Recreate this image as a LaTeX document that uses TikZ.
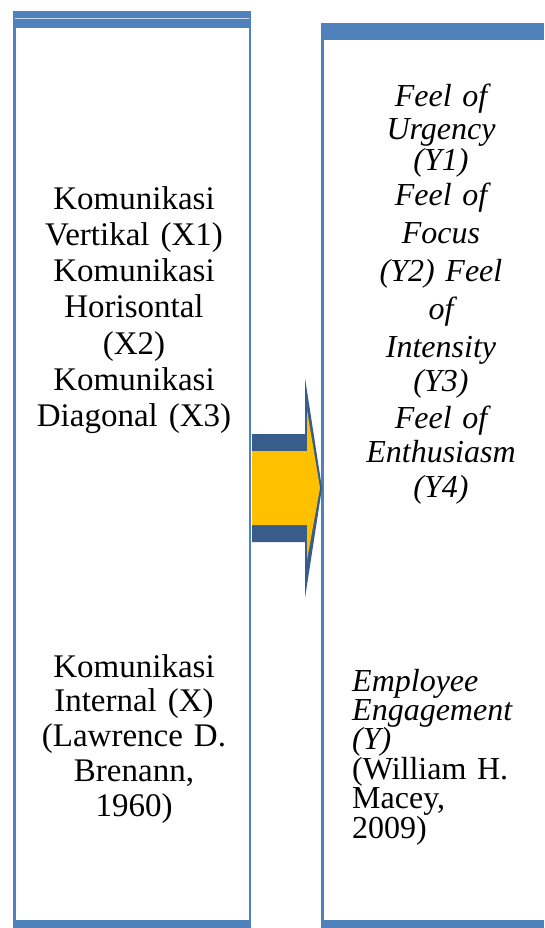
\documentclass[tikz,border=0pt]{standalone}
\usepackage{fontspec}
\setmainfont{Liberation Serif}
\definecolor{boxblue}{HTML}{4F81BD}
\definecolor{arrowdark}{HTML}{385D8A}
\definecolor{arrowyellow}{HTML}{FFC000}
\begin{document}
\begin{tikzpicture}[x=1pt,y=-1pt,
  frame/.style={fill=boxblue,draw=none},
  bigtext/.style={inner sep=0pt,align=center,text width=230pt,font=\fontsize{33}{36.3}\selectfont},
  reftextc/.style={inner sep=0pt,align=center,text width=230pt,font=\fontsize{33}{34.8}\selectfont},
  itext/.style={inner sep=0pt,align=center,text width=230pt,font=\fontsize{32}{35}\selectfont\itshape},
  reftext/.style={inner sep=0pt,align=left,text width=200pt,font=\fontsize{32}{29.4}\selectfont}]
\useasboundingbox (0,0) rectangle (544,928);
\fill[white] (0,0) rectangle (544,928);
% left box
\fill[frame] (13,11) rectangle (16,928);
\fill[frame] (248.5,11) rectangle (251,928);
\fill[frame] (13,11) rectangle (251,28);
\fill[frame] (13,920) rectangle (251,928);
\draw[white!70!boxblue,line width=0.8pt] (15,18) -- (249,18);
% right box
\fill[frame] (321,23) rectangle (324,928);
\fill[frame] (321,23) rectangle (544,40);
\fill[frame] (321,920) rectangle (544,928);
% arrow
\fill[arrowdark] (252,434) -- (305,434) -- (305,378) -- (322,488) -- (305,598) -- (305,542) -- (252,542) -- cycle;
\fill[arrowyellow] (252,451) -- (307,451) -- (307,410) -- (320,488) -- (307,560) -- (307,525) -- (252,525) -- cycle;
% texts
\node[bigtext,anchor=base] (xdims) at (134,209) {Komunikasi\\Vertikal (X1)\\Komunikasi\\Horisontal\\(X2)\\Komunikasi\\Diagonal (X3)};
\node[reftextc,anchor=base] (xvar) at (134,677) {Komunikasi\\Internal (X)\\(Lawrence D.\\Brenann,\\1960)};
\node[itext,anchor=base] (ydims) at (441,107) {Feel of\\[-2pt]Urgency\\[-4pt](Y1)\\[0pt]Feel of\\[3pt]Focus\\[3pt](Y2) Feel\\[3pt]of\\[3pt]Intensity\\[-2pt](Y3)\\[2pt]Feel of\\[-1pt]Enthusiasm\\(Y4)};
\node[reftext,anchor=base west] (yvar) at (352,691) {\textit{Employee}\\\textit{Engagement}\\\textit{(Y)}\\(William H.\\Macey,\\2009)};
\end{tikzpicture}
\end{document}
